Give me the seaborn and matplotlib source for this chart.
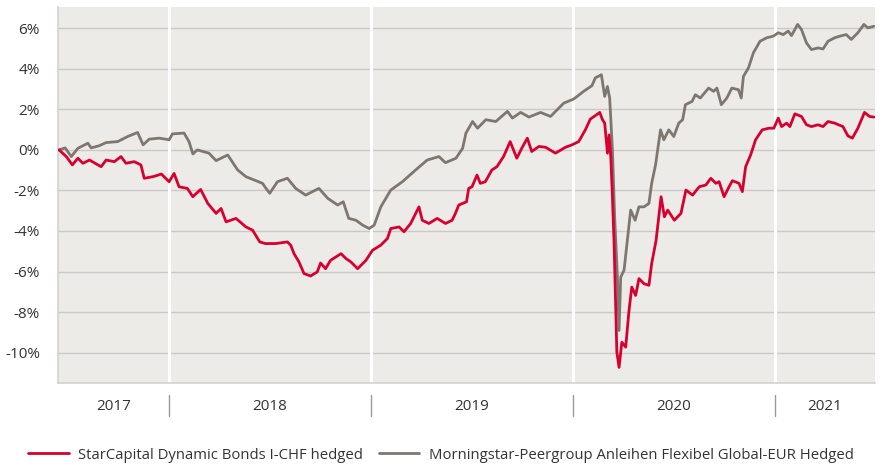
import pandas as pd
import matplotlib.pyplot as plt
import seaborn as sns

# StarCapital Dynamic Bonds I-CHF hedged (cumulative %)
red_dates = [
    '2017-06-16', '2017-06-29', '2017-07-10', '2017-07-20', '2017-07-29', '2017-08-10',
    '2017-08-31', '2017-09-09', '2017-09-24', '2017-10-06', '2017-10-15', '2017-10-30',
    '2017-11-11', '2017-11-17', '2017-12-03', '2017-12-18', '2018-01-01', '2018-01-10',
    '2018-01-19', '2018-02-03', '2018-02-13', '2018-02-27', '2018-03-12', '2018-03-27',
    '2018-04-05', '2018-04-14', '2018-05-02', '2018-05-20', '2018-06-01', '2018-06-14',
    '2018-06-24', '2018-07-13', '2018-08-03', '2018-08-09', '2018-08-15', '2018-08-24',
    '2018-09-02', '2018-09-14', '2018-09-26', '2018-10-02', '2018-10-11', '2018-10-20',
    '2018-11-08', '2018-11-17', '2018-11-26', '2018-12-08', '2018-12-23', '2019-01-04',
    '2019-01-19', '2019-01-31', '2019-02-06', '2019-02-21', '2019-03-02', '2019-03-14',
    '2019-03-29', '2019-04-04', '2019-04-16', '2019-05-01', '2019-05-16', '2019-05-28',
    '2019-06-03', '2019-06-09', '2019-06-23', '2019-06-27', '2019-07-03', '2019-07-12',
    '2019-07-18', '2019-07-27', '2019-08-08', '2019-08-17', '2019-08-29', '2019-09-10',
    '2019-09-22', '2019-10-01', '2019-10-11', '2019-10-19', '2019-11-01', '2019-11-13',
    '2019-12-01', '2019-12-19', '2019-12-31', '2020-01-12', '2020-01-24', '2020-02-02',
    '2020-02-11', '2020-02-19', '2020-02-24', '2020-02-28', '2020-03-04', '2020-03-07',
    '2020-03-10', '2020-03-13', '2020-03-16', '2020-03-21', '2020-03-25', '2020-03-30',
    '2020-04-06', '2020-04-12', '2020-04-17', '2020-04-24', '2020-04-30', '2020-05-09',
    '2020-05-18', '2020-05-23', '2020-05-31', '2020-06-09', '2020-06-15', '2020-06-21',
    '2020-07-03', '2020-07-15', '2020-07-24', '2020-08-05', '2020-08-17', '2020-08-29',
    '2020-09-07', '2020-09-16', '2020-09-22', '2020-10-01', '2020-10-10', '2020-10-16',
    '2020-10-28', '2020-11-03', '2020-11-09', '2020-11-18', '2020-11-27', '2020-12-09',
    '2020-12-21', '2020-12-30', '2021-01-07', '2021-01-13', '2021-01-22', '2021-01-28',
    '2021-02-06', '2021-02-18', '2021-02-27', '2021-03-08', '2021-03-20', '2021-03-29',
    '2021-04-07', '2021-04-19', '2021-05-04', '2021-05-13', '2021-05-21', '2021-05-31',
    '2021-06-12', '2021-06-21', '2021-06-29',
]
red_values = [
    0.0, -0.33, -0.74, -0.41, -0.66, -0.5,
    -0.83, -0.5, -0.58, -0.33, -0.66, -0.58,
    -0.74, -1.4, -1.32, -1.19, -1.57, -1.16,
    -1.82, -1.9, -2.31, -1.95, -2.64, -3.13,
    -2.89, -3.55, -3.38, -3.8, -3.96, -4.54,
    -4.62, -4.62, -4.54, -4.7, -5.12, -5.53,
    -6.1, -6.22, -6.02, -5.58, -5.86, -5.45,
    -5.12, -5.36, -5.53, -5.86, -5.45, -4.95,
    -4.7, -4.37, -3.88, -3.8, -4.04, -3.63,
    -2.81, -3.47, -3.63, -3.38, -3.63, -3.47,
    -3.13, -2.72, -2.56, -1.9, -1.82, -1.24,
    -1.65, -1.57, -0.99, -0.83, -0.33, 0.41,
    -0.41, 0.08, 0.58, -0.08, 0.17, 0.13,
    -0.16, 0.13, 0.25, 0.41, 0.99, 1.52,
    1.69, 1.85, 1.49, 1.32, -0.16, 0.74,
    -0.33, -2.31, -4.62, -9.98, -10.73, -9.49,
    -9.73, -7.92, -6.77, -7.18, -6.35, -6.6,
    -6.68, -5.61, -4.46, -2.31, -3.3, -2.97,
    -3.47, -3.13, -1.98, -2.23, -1.82, -1.73,
    -1.4, -1.65, -1.57, -2.31, -1.82, -1.52,
    -1.65, -2.06, -0.83, -0.25, 0.5, 0.99,
    1.07, 1.07, 1.57, 1.15, 1.32, 1.15,
    1.78, 1.65, 1.24, 1.15, 1.24, 1.15,
    1.4, 1.32, 1.15, 0.69, 0.58, 1.07,
    1.85, 1.65, 1.62,
]

# Morningstar-Peergroup Anleihen Flexibel Global-EUR Hedged
grey_dates = [
    '2017-06-16', '2017-06-27', '2017-07-08', '2017-07-20', '2017-08-07', '2017-08-13',
    '2017-08-27', '2017-09-09', '2017-09-30', '2017-10-18', '2017-11-05', '2017-11-15',
    '2017-11-26', '2017-12-14', '2018-01-01', '2018-01-07', '2018-01-28', '2018-02-06',
    '2018-02-13', '2018-02-21', '2018-03-14', '2018-03-27', '2018-04-17', '2018-05-05',
    '2018-05-20', '2018-06-07', '2018-06-19', '2018-06-24', '2018-07-02', '2018-07-16',
    '2018-08-03', '2018-08-18', '2018-09-05', '2018-09-29', '2018-10-15', '2018-11-02',
    '2018-11-12', '2018-11-22', '2018-12-05', '2018-12-17', '2018-12-29', '2019-01-07',
    '2019-01-19', '2019-02-06', '2019-02-27', '2019-03-23', '2019-04-13', '2019-05-04',
    '2019-05-16', '2019-06-04', '2019-06-16', '2019-06-22', '2019-07-04', '2019-07-13',
    '2019-07-28', '2019-08-15', '2019-09-05', '2019-09-14', '2019-09-29', '2019-10-14',
    '2019-11-04', '2019-11-22', '2019-12-01', '2019-12-16', '2020-01-03', '2020-01-21',
    '2020-02-05', '2020-02-11', '2020-02-22', '2020-02-28', '2020-03-04', '2020-03-08',
    '2020-03-13', '2020-03-17', '2020-03-22', '2020-03-25', '2020-03-28', '2020-04-03',
    '2020-04-09', '2020-04-15', '2020-04-23', '2020-04-30', '2020-05-09', '2020-05-18',
    '2020-05-23', '2020-05-30', '2020-06-08', '2020-06-14', '2020-06-23', '2020-07-02',
    '2020-07-11', '2020-07-18', '2020-07-23', '2020-08-04', '2020-08-10', '2020-08-19',
    '2020-09-03', '2020-09-12', '2020-09-18', '2020-09-26', '2020-10-06', '2020-10-15',
    '2020-10-27', '2020-11-01', '2020-11-05', '2020-11-14', '2020-11-23', '2020-12-05',
    '2020-12-17', '2020-12-29', '2021-01-07', '2021-01-16', '2021-01-25', '2021-01-31',
    '2021-02-11', '2021-02-18', '2021-02-27', '2021-03-08', '2021-03-20', '2021-03-29',
    '2021-04-07', '2021-04-19', '2021-04-28', '2021-05-10', '2021-05-19', '2021-05-31',
    '2021-06-11', '2021-06-18', '2021-06-29',
]
grey_values = [
    0.0, 0.1, -0.33, 0.08, 0.33, 0.1,
    0.2, 0.36, 0.41, 0.66, 0.86, 0.25,
    0.53, 0.58, 0.5, 0.79, 0.83, 0.41,
    -0.2, 0.0, -0.16, -0.53, -0.25, -0.99,
    -1.32, -1.52, -1.65, -1.85, -2.14, -1.57,
    -1.4, -1.9, -2.23, -1.9, -2.39, -2.72,
    -2.56, -3.38, -3.47, -3.71, -3.88, -3.71,
    -2.81, -1.98, -1.57, -0.99, -0.5, -0.33,
    -0.63, -0.41, 0.08, 0.83, 1.4, 1.07,
    1.49, 1.4, 1.9, 1.57, 1.85, 1.62,
    1.85, 1.65, 1.9, 2.31, 2.51, 2.89,
    3.17, 3.55, 3.71, 2.64, 3.13, 2.56,
    0.0, -3.3, -6.27, -8.91, -6.27, -5.94,
    -4.46, -2.97, -3.47, -2.81, -2.81, -2.64,
    -1.65, -0.74, 0.99, 0.5, 0.99, 0.66,
    1.32, 1.49, 2.23, 2.39, 2.72, 2.56,
    3.05, 2.89, 3.05, 2.23, 2.56, 3.05,
    2.97, 2.56, 3.63, 4.04, 4.79, 5.36,
    5.53, 5.61, 5.78, 5.69, 5.86, 5.64,
    6.19, 5.94, 5.28, 4.95, 5.03, 4.98,
    5.36, 5.53, 5.61, 5.69, 5.45, 5.78,
    6.19, 6.02, 6.1,
]

red_label = 'StarCapital Dynamic Bonds I-CHF hedged'
grey_label = 'Morningstar-Peergroup Anleihen Flexibel Global-EUR Hedged'
year_labels = ['2017', '2018', '2019', '2020', '2021']
year_starts = ['2018-01-01', '2019-01-01', '2020-01-01', '2021-01-01']
y_ticks = [-10, -8, -6, -4, -2, 0, 2, 4, 6]

RED = '#d7002f'
GREY = '#7f776f'
BG = '#ecebe8'
GRID = '#c9c9c9'
TEXT = '#333333'

red_df = pd.DataFrame({'date': pd.to_datetime(red_dates), 'value': red_values})
grey_df = pd.DataFrame({'date': pd.to_datetime(grey_dates), 'value': grey_values})

sns.set_theme(style='white')
plt.rcParams['font.family'] = ['Open Sans', 'DejaVu Sans']

fig = plt.figure(figsize=(8.82, 4.65), dpi=100)
ax = fig.add_axes([58 / 882, 1 - 383 / 465, (875 - 58) / 882, (383 - 7) / 465])
ax.set_facecolor(BG)

sns.lineplot(data=grey_df, x='date', y='value', color=GREY, lw=2.0, ax=ax,
             label=grey_label, zorder=3)
sns.lineplot(data=red_df, x='date', y='value', color=RED, lw=2.0, ax=ax,
             label=red_label, zorder=4)

x0 = pd.Timestamp('2017-06-14')
x1 = pd.Timestamp('2021-07-01')
ax.set_xlim(x0, x1)
ax.set_ylim(-11.5, 7.05)

# grid and year separators
ax.set_yticks(y_ticks)
ax.set_yticklabels([f'{t}%' for t in y_ticks])
ax.yaxis.grid(True, color=GRID, lw=1.0, zorder=1)
ax.xaxis.grid(False)
for ys in year_starts:
    ax.axvline(pd.Timestamp(ys), color='white', lw=2.2, zorder=2)
    ax.plot([pd.Timestamp(ys)] * 2, [-0.032, -0.087], color='#9a9a9a', lw=1.0,
            transform=ax.get_xaxis_transform(), clip_on=False)

bounds = [x0] + [pd.Timestamp(y) for y in year_starts] + [x1]
for lab, a, b in zip(year_labels, bounds[:-1], bounds[1:]):
    mid = a + (b - a) / 2
    ax.text(mid, -0.062, lab, transform=ax.get_xaxis_transform(), ha='center',
            va='center', fontsize=11, color=TEXT)

ax.set_xticks([])
ax.set_xlabel('')
ax.set_ylabel('')
ax.tick_params(axis='y', length=5, color=GRID, labelsize=11, labelcolor=TEXT, pad=8)
for side in ['top', 'right']:
    ax.spines[side].set_visible(False)
for side in ['left', 'bottom']:
    ax.spines[side].set_color('#d2d2d2')
    ax.spines[side].set_linewidth(1.2)

handles, labels = ax.get_legend_handles_labels()
ax.get_legend().remove()
order = [labels.index(red_label), labels.index(grey_label)]
fig.legend([handles[i] for i in order], [labels[i] for i in order],
           loc='center left', bbox_to_anchor=(15 / 882, 1 - 455 / 465), ncol=2,
           frameon=False, fontsize=10.7, handlelength=2.7, handletextpad=0.67,
           columnspacing=1.05, labelcolor=TEXT)

fig.savefig('out.png', dpi=100)
